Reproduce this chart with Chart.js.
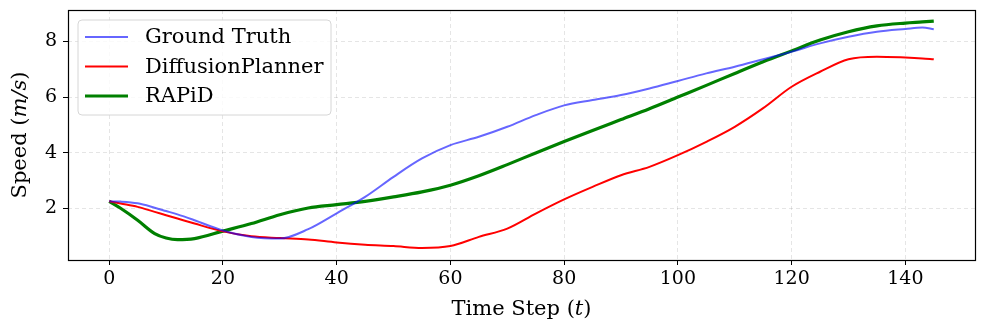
<!DOCTYPE html>
<html>
<head>
<meta charset="utf-8">
<script src="https://cdn.jsdelivr.net/npm/chart.js@4/dist/chart.umd.min.js"></script>
<style>
  html, body { margin: 0; padding: 0; background: #fff; }
  #wrap { width: 984px; height: 334px; position: relative; }
</style>
</head>
<body>
<div id="wrap"><canvas id="c" width="984" height="334"></canvas></div>
<script>
const timeSteps = [0, 2, 5, 8, 10, 12, 15, 20, 25, 30, 35, 40, 45, 50, 55, 60, 65, 70, 75, 80, 85, 90, 95, 100, 105, 110, 115, 120, 125, 130, 135, 140, 143, 145];
const groundTruth = [2.25, 2.24, 2.18, 2.02, 1.9, 1.78, 1.57, 1.2, 0.97, 0.91, 1.25, 1.82, 2.41, 3.13, 3.79, 4.27, 4.57, 4.93, 5.35, 5.7, 5.89, 6.07, 6.31, 6.58, 6.85, 7.09, 7.36, 7.63, 7.93, 8.17, 8.35, 8.45, 8.5, 8.44];
const diffusionPlanner = [2.25, 2.17, 2.05, 1.87, 1.75, 1.63, 1.45, 1.17, 0.99, 0.93, 0.88, 0.77, 0.69, 0.64, 0.57, 0.64, 0.97, 1.27, 1.81, 2.32, 2.77, 3.19, 3.49, 3.91, 4.39, 4.93, 5.6, 6.37, 6.91, 7.36, 7.45, 7.42, 7.39, 7.36];
const rapid = [2.25, 2.0, 1.57, 1.09, 0.93, 0.87, 0.91, 1.18, 1.45, 1.77, 2.01, 2.13, 2.25, 2.41, 2.59, 2.83, 3.17, 3.57, 3.99, 4.4, 4.8, 5.19, 5.58, 6.0, 6.42, 6.85, 7.27, 7.66, 8.05, 8.35, 8.56, 8.66, 8.7, 8.73];
const xTickValues = [0, 20, 40, 60, 80, 100, 120, 140];
const yTickValues = [2, 4, 6, 8];
const seriesNames = ['Ground Truth', 'DiffusionPlanner', 'RAPiD'];
const xTitleParts = [['Time Step (', false], ['t', true], [')', false]];
const yTitleParts = [['Speed (', false], ['m/s', true], [')', false]];

const toPoints = arr => arr.map((v, i) => ({ x: timeSteps[i], y: v }));
const FONT = '"DejaVu Serif", serif';
const TITLE_SIZE = 21;

function partsWidth(ctx, parts) {
  let w = 0;
  parts.forEach(([t, it]) => { ctx.font = (it ? 'italic ' : '') + TITLE_SIZE + 'px ' + FONT; w += ctx.measureText(t).width; });
  return w;
}
function drawParts(ctx, parts, cx, cy) {
  const w = partsWidth(ctx, parts);
  let x = cx - w / 2;
  ctx.textBaseline = 'middle';
  ctx.textAlign = 'left';
  parts.forEach(([t, it]) => {
    ctx.font = (it ? 'italic ' : '') + TITLE_SIZE + 'px ' + FONT;
    ctx.fillText(t, x, cy);
    x += ctx.measureText(t).width;
  });
}

const frameAndLegend = {
  id: 'frameAndLegend',
  afterDraw(chart) {
    const { ctx, chartArea: a } = chart;
    ctx.save();
    ctx.fillStyle = '#000';
    // axis titles
    drawParts(ctx, xTitleParts, (a.left + a.right) / 2, 310);
    ctx.save();
    ctx.translate(21, (a.top + a.bottom) / 2);
    ctx.rotate(-Math.PI / 2);
    drawParts(ctx, yTitleParts, 0, 0);
    ctx.restore();
    ctx.restore();
  },
  afterDatasetsDraw(chart) {
    const { ctx, chartArea: a } = chart;
    ctx.save();
    ctx.strokeStyle = '#000';
    ctx.lineWidth = 1.2;
    ctx.strokeRect(Math.round(a.left) + 0.5, Math.round(a.top) + 0.5, Math.round(a.right - a.left), Math.round(a.bottom - a.top));
    // legend
    const lx = a.left + 10, ly = a.top + 10, lw = 253, lh = 95, r = 4;
    ctx.beginPath();
    ctx.moveTo(lx + r, ly);
    ctx.arcTo(lx + lw, ly, lx + lw, ly + lh, r);
    ctx.arcTo(lx + lw, ly + lh, lx, ly + lh, r);
    ctx.arcTo(lx, ly + lh, lx, ly, r);
    ctx.arcTo(lx, ly, lx + lw, ly, r);
    ctx.closePath();
    ctx.fillStyle = 'rgba(255,255,255,0.8)';
    ctx.fill();
    ctx.strokeStyle = '#d6d6d6';
    ctx.lineWidth = 1;
    ctx.stroke();
    ctx.font = '21px ' + FONT;
    ctx.textBaseline = 'middle';
    chart.data.datasets.forEach((ds, i) => {
      const y = ly + 17 + i * 29.5;
      ctx.beginPath();
      ctx.strokeStyle = ds.borderColor;
      ctx.lineWidth = ds.borderWidth;
      ctx.moveTo(lx + 7, y);
      ctx.lineTo(lx + 50, y);
      ctx.stroke();
      ctx.fillStyle = '#000';
      ctx.fillText(ds.label, lx + 67, y + 1);
    });
    ctx.restore();
  }
};

new Chart(document.getElementById('c'), {
  type: 'line',
  data: {
    datasets: [
      { label: seriesNames[0], data: toPoints(groundTruth), borderColor: 'rgba(0,0,255,0.6)', borderWidth: 2, pointRadius: 0, cubicInterpolationMode: 'monotone', fill: false },
      { label: seriesNames[1], data: toPoints(diffusionPlanner), borderColor: '#ff0000', borderWidth: 2, pointRadius: 0, cubicInterpolationMode: 'monotone', fill: false },
      { label: seriesNames[2], data: toPoints(rapid), borderColor: '#008000', borderWidth: 3.2, pointRadius: 0, cubicInterpolationMode: 'monotone', fill: false }
    ]
  },
  options: {
    responsive: false,
    animation: false,
    layout: { padding: { left: 0, right: 9, top: 10, bottom: 0 } },
    plugins: { legend: { display: false }, tooltip: { enabled: false } },
    scales: {
      x: {
        type: 'linear',
        min: -7.25, max: 152.25,
        afterBuildTicks: s => { s.ticks = xTickValues.map(v => ({ value: v })); },
        afterFit: s => { s.height = 74; s.paddingLeft = 0; s.paddingRight = 0; },
        grid: { color: 'rgba(0,0,0,0.1)', tickColor: '#000', tickLength: 5, tickBorderDash: [] },
        border: { display: false, dash: [4, 3] },
        ticks: { color: '#000', font: { family: FONT, size: 19 }, padding: 3, maxRotation: 0 },
        title: { display: false }
      },
      y: {
        type: 'linear',
        min: 0.14, max: 9.13,
        afterBuildTicks: s => { s.ticks = yTickValues.map(v => ({ value: v })); },
        afterFit: s => { s.width = 68; s.paddingTop = 0; s.paddingBottom = 0; },
        grid: { color: 'rgba(0,0,0,0.1)', tickColor: '#000', tickLength: 5, tickBorderDash: [] },
        border: { display: false, dash: [4, 3] },
        ticks: { color: '#000', font: { family: FONT, size: 19 }, padding: 6 },
        title: { display: false }
      }
    }
  },
  plugins: [frameAndLegend]
});
</script>
</body>
</html>
